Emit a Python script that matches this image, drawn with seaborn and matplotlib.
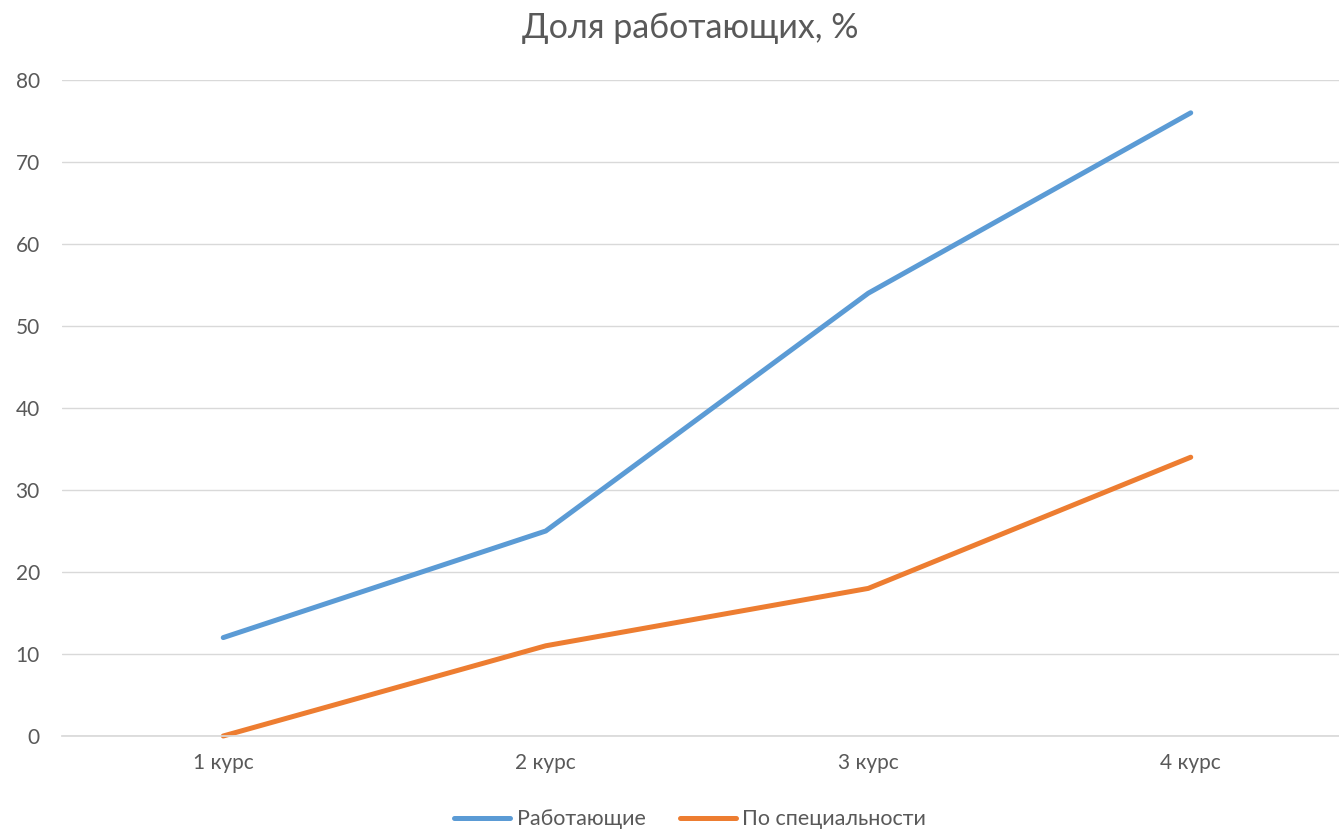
import matplotlib
matplotlib.use("Agg")
import matplotlib.pyplot as plt
import seaborn as sns
import pandas as pd

categories = ["1 курс", "2 курс", "3 курс", "4 курс"]
working = [12, 25, 54, 76]
by_specialty = [0, 11, 18, 34]
series_names = ["Работающие", "По специальности"]
y_ticks = [0, 10, 20, 30, 40, 50, 60, 70, 80]

df = pd.DataFrame({
    "x": list(range(len(categories))) * 2,
    "value": working + by_specialty,
    "series": [series_names[0]] * len(categories) + [series_names[1]] * len(categories),
})

sns.set_theme(style="white")
plt.rcParams["font.family"] = ["Lato", "DejaVu Sans"]

fig = plt.figure(figsize=(13.39, 8.32), dpi=100)
# plot area extends slightly beyond the right edge of the image, as in the reference
ax = fig.add_axes([0.0463, 0.1154, 0.9634, 0.7884])

sns.lineplot(data=df, x="x", y="value", hue="series", palette=["#5B9BD5", "#ED7D31"],
             linewidth=3.6, ax=ax, legend=True, solid_capstyle="round")
for line in ax.lines:
    line.set_clip_on(False)

ax.set_xlim(-0.5, len(categories) - 0.5)
ax.set_ylim(0, 80)
ax.set_yticks(y_ticks)
ax.set_xticks(range(len(categories)))
ax.set_xticklabels(categories)
ax.set_xlabel("")
ax.set_ylabel("")
ax.grid(axis="y", color="#D9D9D9", linewidth=1)
ax.set_axisbelow(True)
for s in ["top", "right", "left"]:
    ax.spines[s].set_visible(False)
ax.spines["bottom"].set_color("#D9D9D9")
ax.tick_params(axis="both", length=0, labelsize=15, colors="#595959", pad=12)
ax.tick_params(axis="y", pad=16)

ax.set_title("Доля работающих, %", fontsize=24.5, color="#595959", pad=30, x=0.487)

handles, labels = ax.get_legend_handles_labels()
ax.legend(handles, labels, loc="center", bbox_to_anchor=(0.487, -0.127), ncol=2,
          frameon=False, fontsize=15.5, labelcolor="#595959", handlelength=2.6,
          columnspacing=1.6, handletextpad=0.3)

fig.savefig("out.png", dpi=100, facecolor="white")
